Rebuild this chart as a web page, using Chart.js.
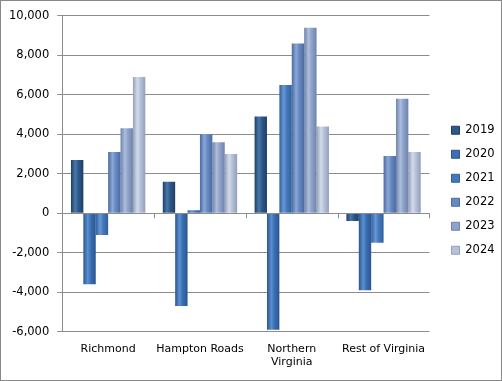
<!DOCTYPE html>
<html>
<head>
<meta charset="utf-8">
<script src="https://cdn.jsdelivr.net/npm/chart.js@4/dist/chart.umd.min.js"></script>
<style>
html,body{margin:0;padding:0;background:#fff;}
#wrap{width:502px;height:381px;box-sizing:border-box;border:1px solid #888;position:relative;}
canvas{display:block;}
</style>
</head>
<body>
<div id="wrap"><canvas id="c" width="500" height="379"></canvas></div>
<script>
const categories = ["Richmond", "Hampton Roads", ["Northern", "Virginia"], "Rest of Virginia"];
const seriesNames = ["2019", "2020", "2021", "2022", "2023", "2024"];
const v2019 = [2700, 1600, 4900, -400];
const v2020 = [-3600, -4700, -5900, -3900];
const v2021 = [-1100, 150, 6500, -1500];
const v2022 = [3100, 4000, 8600, 2900];
const v2023 = [4300, 3600, 9400, 5800];
const v2024 = [6900, 3000, 4400, 3100];
const values = [v2019, v2020, v2021, v2022, v2023, v2024];
const yTicks = [-6000, -4000, -2000, 0, 2000, 4000, 6000, 8000, 10000];

const colors = ["#2d5889", "#3a6fb3", "#4479bd", "#6789c2", "#8ea2ca", "#b6c2da"];
const darks  = ["#1f3f66", "#2a5590", "#305f9c", "#4b6aa0", "#6e82aa", "#939fba"];
const lights = ["#4a78ad", "#5b8fd0", "#6a98d4", "#8aa7d6", "#adbedc", "#d2dbea"];

function barFill(i){
  return function(c){
    const el = c.element;
    if (!el || !el.width || !isFinite(el.x)) return colors[i];
    const g = c.chart.ctx.createLinearGradient(el.x - el.width/2, 0, el.x + el.width/2, 0);
    g.addColorStop(0, darks[i]);
    g.addColorStop(0.35, lights[i]);
    g.addColorStop(0.6, colors[i]);
    g.addColorStop(1, darks[i]);
    return g;
  };
}

const FONT = "'DejaVu Sans', Verdana, sans-serif";

const zeroTicks = {
  id: 'zeroTicks',
  afterDatasetsDraw(chart){
    const x = chart.scales.x, y = chart.scales.y, ctx = chart.ctx;
    const y0 = y.getPixelForValue(0);
    ctx.save();
    ctx.strokeStyle = '#8c8c8c';
    ctx.lineWidth = 1;
    ctx.beginPath();
    ctx.moveTo(x.left, Math.round(y0)+0.5);
    ctx.lineTo(x.right, Math.round(y0)+0.5);
    const n = categories.length;
    for (let k = 0; k <= n; k++){
      const px = Math.round(x.left + (x.right - x.left) * k / n) + 0.5;
      ctx.moveTo(px, y0);
      ctx.lineTo(px, y0 + 5);
    }
    ctx.stroke();
    ctx.restore();
  }
};

const legendShift = {
  id: 'legendShift',
  afterLayout(chart){
    const L = chart.legend;
    if (!L) return;
    const w = L.right - L.left, h = L.bottom - L.top;
    L.left = 438; L.right = 438 + w;
    L.top = 111; L.bottom = 111 + h;
  }
};

const chart = new Chart(document.getElementById('c'), {
  type: 'bar',
  data: {
    labels: categories,
    datasets: seriesNames.map((n, i) => ({
      label: n,
      data: values[i],
      backgroundColor: barFill(i),
      borderWidth: 0,
      categoryPercentage: 0.81,
      barPercentage: 1
    }))
  },
  options: {
    responsive: false,
    animation: false,
    layout: { padding: { top: 12, right: 6, left: 0, bottom: 0 } },
    plugins: {
      legend: {
        position: 'right',
        align: 'start',
        labels: {
          boxWidth: 8, boxHeight: 8, padding: 12.5,
          color: '#000',
          font: { family: FONT, size: 11.5 },
          generateLabels(chart){
            return chart.data.datasets.map((d, i) => ({
              text: d.label, fillStyle: colors[i], strokeStyle: darks[i], lineWidth: 1, datasetIndex: i
            }));
          }
        }
      },
      tooltip: { enabled: false }
    },
    scales: {
      x: {
        grid: { display: false, drawTicks: false },
        border: { display: false },
        ticks: { color: '#000', font: { family: FONT, size: 11 }, maxRotation: 0, autoSkip: false, padding: 11 }
      },
      y: {
        min: -6000, max: 10000,
        afterBuildTicks(s){ s.ticks = yTicks.map(v => ({ value: v })); },
        grid: { color: '#8c8c8c', tickLength: 5, drawTicks: true },
        border: { color: '#8c8c8c' },
        ticks: { color: '#000', font: { family: FONT, size: 11.5 }, padding: 8,
          callback: v => v.toLocaleString('en-US') }
      }
    }
  },
  plugins: [zeroTicks, legendShift]
});
chart.update('none');
</script>
</body>
</html>
